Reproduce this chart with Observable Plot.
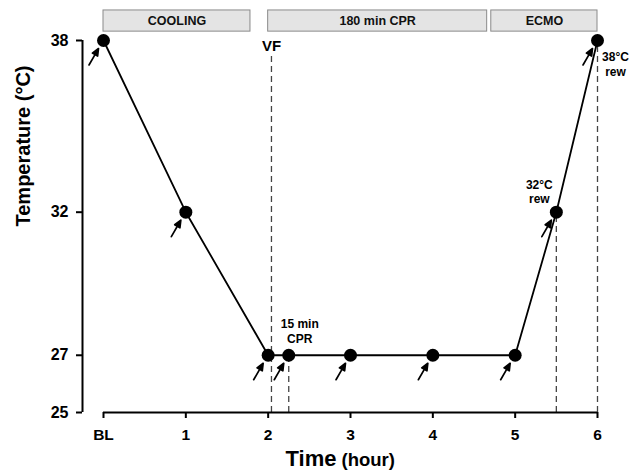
<!DOCTYPE html>
<html>
<head>
<meta charset="utf-8">
<script src="https://cdn.jsdelivr.net/npm/d3@7"></script>
<script src="https://cdn.jsdelivr.net/npm/@observablehq/plot@0.6"></script>
<style>
  html, body { margin: 0; padding: 0; background: #fff; }
  #chart svg { display: block; }
</style>
</head>
<body>
<div id="chart"></div>
<script>
// ---- data ----
const times = [0, 1, 2, 2.25, 3, 4, 5, 5.5, 6];
const temps = [38, 32, 27, 27, 27, 27, 27, 32, 38];

const xTicks = [0, 1, 2, 3, 4, 5, 6];
const xTickLabels = ["BL", "1", "2", "3", "4", "5", "6"];
const yTicks = [25, 27, 32, 38];

const phaseNames = ["COOLING", "180 min CPR", "ECMO"];
const phaseStart = [0, 2, 4.71];
const phaseEnd = [1.785, 4.66, 6];

const markerTimes = [2.04, 2.25, 5.5, 6];
const markerTops = [37.55, 27, 32, 38];

const vfLabel = "VF";
const vfTime = 2.04;
const cprLabel = "15 min\nCPR";
const rew32Label = "32°C\nrew";
const rew38Label = "38°C\nrew";

// ---- tables ----
const pts = times.map((t, i) => ({t, temp: temps[i]}));
const phases = phaseNames.map((name, i) => ({name, x1: phaseStart[i], x2: phaseEnd[i]}));
const markers = markerTimes.map((t, i) => ({t, top: markerTops[i]}));

const font = "'Liberation Sans', Arial, Helvetica, sans-serif";

const arrowShape = {
  draw(c, l) {
    c.moveTo(0, 0);
    c.lineTo(0, -l + 5);
    c.moveTo(0, -l);
    c.lineTo(-3, -l + 7);
    c.lineTo(3, -l + 7);
    c.closePath();
  }
};

const chart = Plot.plot({
  width: 630,
  height: 476,
  marginLeft: 103,
  marginRight: 33,
  marginTop: 40,
  marginBottom: 64,
  style: {fontFamily: font, background: "#fff", color: "#000"},
  x: {domain: [0, 6], axis: null},
  y: {domain: [25, 38], axis: null},
  marks: [
    // phase banners
    Plot.rect(phases, {x1: "x1", x2: "x2", y1: 38.31, y2: 39.05, fill: "#e4e4e4", stroke: "#8a8a8a", strokeWidth: 1}),
    Plot.text(phases, {x: d => (d.x1 + d.x2) / 2, y: 38.68, text: "name", fontSize: 12.5, fontWeight: "bold", fill: "#111"}),
    // dashed markers
    Plot.ruleX(markers, {x: "t", y1: 25, y2: "top", stroke: "#444", strokeWidth: 1.3, strokeDasharray: "6,4"}),
    // axes lines
    Plot.ruleX([0], {y1: 25, y2: 38, dx: -21, stroke: "#000", strokeWidth: 2}),
    Plot.ruleY([25], {x1: 0, x2: 6, stroke: "#000", strokeWidth: 2}),
    Plot.axisX(xTicks, {
      anchor: "bottom", tickSize: 6, tickPadding: 10, strokeWidth: 2,
      tickFormat: d => xTickLabels[xTicks.indexOf(d)],
      fontSize: 15.5, fontWeight: "bold", label: null
    }),
    Plot.axisY(yTicks, {
      anchor: "left", dx: -21, tickSize: 6, tickPadding: 8, strokeWidth: 2,
      fontSize: 16, fontWeight: "bold", label: null
    }),
    // data line and points
    Plot.line(pts, {x: "t", y: "temp", stroke: "#000", strokeWidth: 1.8}),
    Plot.dot(pts, {x: "t", y: "temp", r: 6.5, fill: "#000", stroke: "none"}),
    // arrows
    Plot.vector(pts, {x: "t", y: "temp", length: 19, rotate: 30, anchor: "end", dx: -5, dy: 8,
      shape: arrowShape, fill: "#000", stroke: "#000", strokeWidth: 1.7}),
    // annotations
    Plot.text([vfLabel], {x: vfTime, y: 38, text: d => d, dy: 6, fontSize: 15, fontWeight: "bold"}),
    Plot.text([cprLabel], {x: times[3], y: temps[3], text: d => d, dx: 11, dy: -25, fontSize: 12, fontWeight: "bold", lineHeight: 1.25}),
    Plot.text([rew32Label], {x: times[7], y: temps[7], text: d => d, dx: -17, dy: -21, fontSize: 12, fontWeight: "bold", lineHeight: 1.25}),
    Plot.text([rew38Label], {x: times[8], y: temps[8], text: d => d, dx: 18, dy: 23, fontSize: 12, fontWeight: "bold", lineHeight: 1.25}),
    // axis titles
    Plot.text(["Temperature (°C)"], {frameAnchor: "left", rotate: -90, dx: -80, fontSize: 20, fontWeight: "bold"}),
    Plot.text(["Time"], {frameAnchor: "bottom", textAnchor: "end", dx: -14, dy: 53, fontSize: 22, fontWeight: "bold"}),
    Plot.text(["(hour)"], {frameAnchor: "bottom", textAnchor: "start", dx: -9, dy: 53, fontSize: 18.5, fontWeight: "bold"})
  ]
});
document.getElementById("chart").appendChild(chart);
</script>
</body>
</html>
